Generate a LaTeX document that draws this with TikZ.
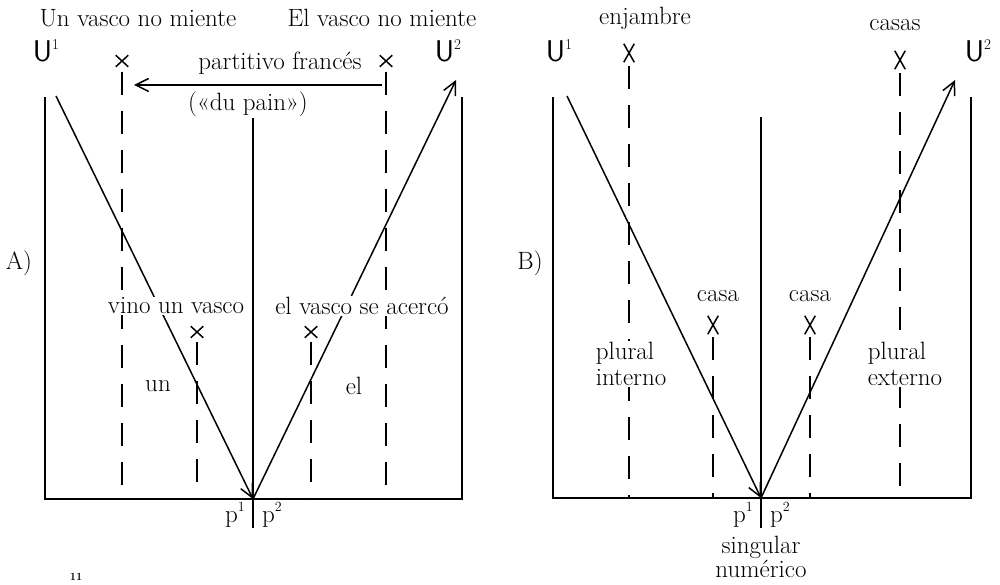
\documentclass[tikz,border=0pt]{standalone}
\usepackage{fontspec}
\usetikzlibrary{arrows.meta,shapes.misc}
\begin{document}
\begin{tikzpicture}[x=1pt,y=-1pt, line width=1.5pt,
  txt/.style={font=\fontsize{25}{26}\selectfont, inner sep=1pt},
  lbl/.style={txt, fill=white},
  two/.style={txt, fill=white, align=left, font=\fontsize{25}{26}\selectfont},
  dsh/.style={dash pattern=on 23pt off 16pt},
  xa/.style={cross out, draw, minimum width=11pt, minimum height=10pt, inner sep=0pt},
  xb/.style={cross out, draw, minimum width=9pt, minimum height=17pt, inner sep=0pt},
  ucup/.style={font=\fontsize{30}{32}\sffamily, inner sep=0pt, anchor=west},
  arr/.style={-{Straight Barb[length=13pt,width=13pt]}}]
\useasboundingbox (0,0) rectangle (1000,585);

% ================= Panel A =================
\coordinate (aBL) at (45,499);
\coordinate (aBR) at (462,499);
\coordinate (aTL) at (45,97);
\coordinate (aTR) at (462,97);
\coordinate (aCT) at (253,118);
\coordinate (aCB) at (253,528);
\coordinate (aP) at (253,499);

\draw (aTL) -- (aBL) -- (aBR) -- (aTR);
\draw (aCT) -- (aCB);

\node[txt] (aUn) at (138,18) {Un vasco no miente};
\node[txt] (aEl) at (382,18) {El vasco no miente};
\node[ucup] (aU1) at (32,51) {U\raisebox{0.4em}{\fontsize{15}{16}\rmfamily 1}};
\node[ucup] (aU2) at (434,51) {U\raisebox{0.4em}{\fontsize{15}{16}\rmfamily 2}};

\node[xa] (ax1) at (122,61) {};
\node[xa] (ax2) at (386,61) {};
\node[xa] (ax3) at (197,332) {};
\node[xa] (ax4) at (311,332) {};

\coordinate (ad1) at (122,499);
\coordinate (ad2) at (386,499);
\coordinate (ad3) at (197,499);
\coordinate (ad4) at (311,499);
\draw[dsh] ([yshift=-5pt]ax1.south) -- (ad1);
\draw[dsh] ([yshift=-5pt]ax2.south) -- (ad2);
\draw[dsh] ([yshift=-4pt]ax3.south) -- (ad3);
\draw[dsh] ([yshift=-4pt]ax4.south) -- (ad4);

\coordinate (aHR) at (382,85);
\coordinate (aHL) at (134,85);
\draw[arr] (aHR) -- (aHL);
\node[txt] (apf) at (280,63) {partitivo francés};
\node[txt] (adp) at (248,104) {(«du pain»)};

\coordinate (aS1) at (56,96);
\coordinate (aE2) at (456,80);
\draw[arr] (aS1) -- (aP);
\draw[arr] (aP) -- (aE2);

\node[lbl] (avino) at (176,306) {vino un vasco};
\node[lbl] (ael) at (362,306) {el vasco se acercó};
\node[txt] (aun) at (158,386) {un};
\node[txt] (ael2) at (354,386) {el};
\node[txt] (aA) at (19,263) {A)};

\node[txt] (ap1) at (235,515) {p\raisebox{0.45em}{\fontsize{14}{15}\selectfont 1}};
\node[txt] (ap2) at (272,515) {p\raisebox{0.45em}{\fontsize{14}{15}\selectfont 2}};

% ================= Panel B =================
\coordinate (bBL) at (553,498);
\coordinate (bBR) at (971,498);
\coordinate (bTL) at (553,97);
\coordinate (bTR) at (971,97);
\coordinate (bCT) at (761,117);
\coordinate (bCB) at (761,528);
\coordinate (bP) at (761,498);

\draw (bTL) -- (bBL) -- (bBR) -- (bTR);
\draw (bCT) -- (bCB);

\node[ucup] (bU1) at (545,51) {U\raisebox{0.4em}{\fontsize{15}{16}\rmfamily 1}};
\node[ucup] (bU2) at (964,51) {U\raisebox{0.4em}{\fontsize{15}{16}\rmfamily 2}};

\node[txt] (benj) at (645,18) {enjambre};
\node[txt] (bcasas) at (895,25) {casas};
\node[xb] (bx1) at (629,53) {};
\node[xb] (bx2) at (900,60) {};

\node[txt] (bcasa1) at (718,296) {casa};
\node[txt] (bcasa2) at (810,296) {casa};
\node[xb] (bx3) at (713,325) {};
\node[xb] (bx4) at (810,325) {};

\coordinate (bd1) at (629,498);
\coordinate (bd2) at (900,498);
\coordinate (bd3) at (713,498);
\coordinate (bd4) at (810,498);
\draw[dsh] ([yshift=-4pt]bx1.south) -- (bd1);
\draw[dsh] ([yshift=-4pt]bx2.south) -- (bd2);
\draw[dsh] ([yshift=-3pt]bx3.south) -- (bd3);
\draw[dsh] ([yshift=-3pt]bx4.south) -- (bd4);

\coordinate (bS1) at (567,96);
\coordinate (bE2) at (955,80);
\draw[arr] (bS1) -- (bP);
\draw[arr] (bP) -- (bE2);

\node[two] (bint) at (631,364) {plural\\interno};
\node[two] (bext) at (905,364) {plural\\externo};
\node[txt] (bB) at (530,263) {B)};

\node[txt] (bp1) at (743,515) {p\raisebox{0.45em}{\fontsize{14}{15}\selectfont 1}};
\node[txt] (bp2) at (780,515) {p\raisebox{0.45em}{\fontsize{14}{15}\selectfont 2}};
\node[txt, align=center, font=\fontsize{25}{24}\selectfont] (bsing) at (761,557) {singular\\numérico};

\node[txt, font=\fontsize{11}{12}\bfseries] (fn) at (76,577) {11};
\end{tikzpicture}
\end{document}
